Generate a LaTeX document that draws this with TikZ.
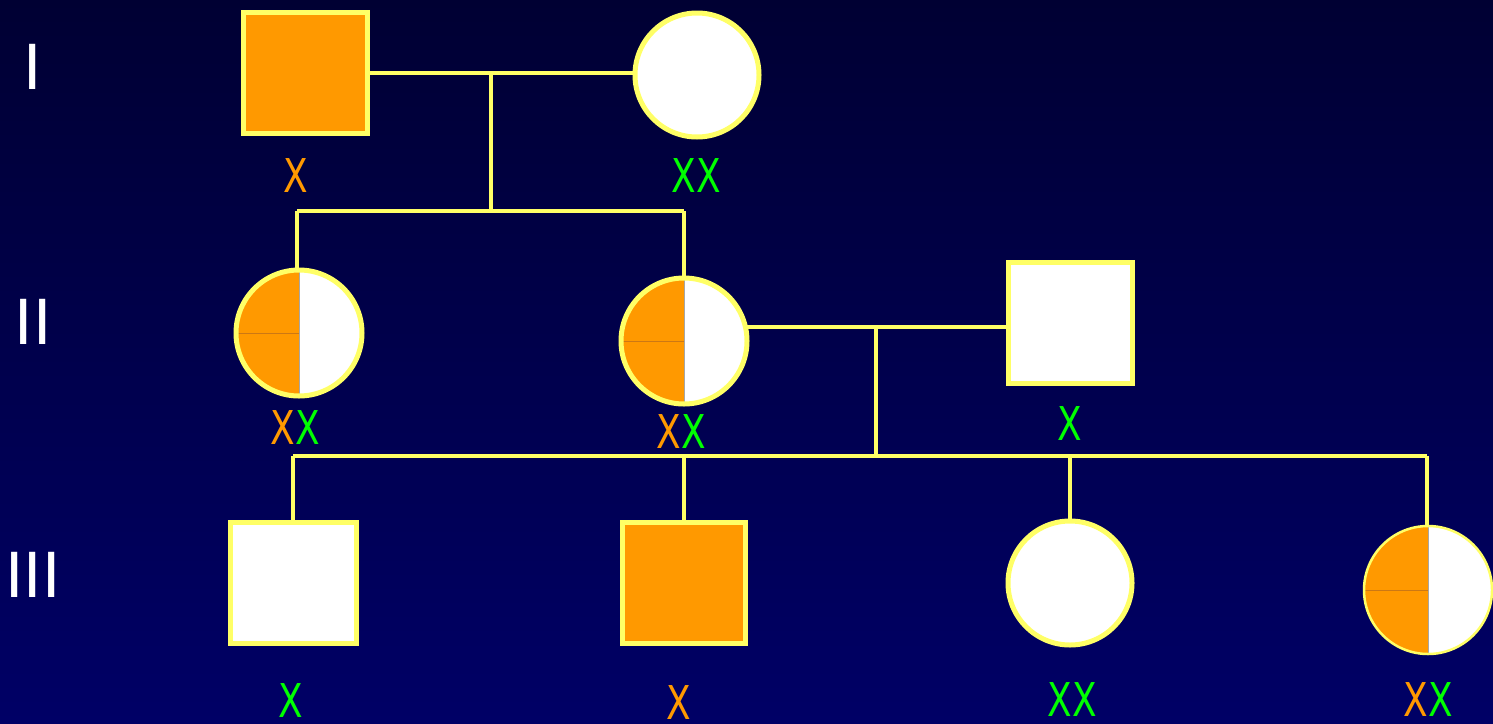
\documentclass[tikz,border=0pt]{standalone}
\usepackage{fontspec}
\setmainfont{DejaVu Sans}
\definecolor{pedline}{RGB}{255,255,102}
\definecolor{affected}{RGB}{255,153,0}
\definecolor{quadline}{RGB}{204,120,20}
\definecolor{gtext}{RGB}{0,255,0}
\definecolor{bgtop}{RGB}{0,0,51}
\definecolor{bgbot}{RGB}{0,0,102}
\newcommand{\ox}{{\color{affected}X}}
\newcommand{\gx}{{\color{gtext}X}}
\newcommand{\geno}[1]{\scalebox{0.77}[1]{#1}}
\tikzset{
  link/.style={draw=pedline, line width=4.5pt},
  person/.style={draw=pedline, line width=5pt, inner sep=0pt, outer sep=0pt},
  male/.style={person, rectangle, minimum width=124pt, minimum height=121pt},
  female/.style={person, circle, minimum size=126pt},
  affectedfill/.style={fill=affected},
  normalfill/.style={fill=white},
  carrier/.style={fill=white, path picture={
      \fill[affected] (path picture bounding box.south west) rectangle (path picture bounding box.north);
      \draw[quadline, line width=0.8pt] (path picture bounding box.west) -- (path picture bounding box.center);
      \draw[gray!70, line width=0.8pt] (path picture bounding box.north) -- (path picture bounding box.south);
  }},
  label/.style={inner sep=0pt, font=\fontsize{46.6}{50}\selectfont},
  gen/.style={inner sep=0pt, text=white, font=\fontsize{62}{66}\selectfont},
}
\begin{document}
\begin{tikzpicture}[x=1pt, y=-1pt]
  % background
  \shade[top color=bgtop, bottom color=bgbot] (0,0) rectangle (1493,723);
  \useasboundingbox (0,0) rectangle (1493,723);

  % generation numerals
  \node[gen] (g1) at (33,67) {I};
  \node[gen] (g2) at (33,322) {II};
  \node[gen] (g3) at (33,575) {III};

  % generation I
  \node[male, affectedfill] (m1) at (305,73) {};
  \node[female, normalfill, minimum size=124pt] (f1) at (697,75) {};
  % generation II
  \node[female, carrier] (f2) at (299,333) {};
  \node[female, carrier] (f3) at (684,341) {};
  \node[male, normalfill] (m2) at (1070,323) {};
  % generation III
  \node[male, normalfill, minimum width=126pt] (m3) at (293,583) {};
  \node[male, affectedfill, minimum width=123pt] (m4) at (684,583) {};
  \node[female, normalfill, minimum size=124pt] (f4) at (1070,583) {};
  \node[female, carrier, minimum size=128pt, line width=2.5pt] (f5) at (1428,590) {};

  % mating and sibship lines
  \coordinate (d1) at (491,74);
  \coordinate (s1) at (491,211);
  \coordinate (s1l) at (297,211);
  \coordinate (s1r) at (684,211);
  \draw[link] (m1.east) -- (m1.east -| f1.west);
  \draw[link] (d1) -- (s1);
  \draw[link] (s1l) -- (s1r);
  \draw[link] (s1l) -- (s1l |- f2.north);
  \draw[link] (s1r) -- (f3.north);

  \coordinate (d2) at (876,326);
  \coordinate (s2) at (876,456);
  \coordinate (s2l) at (293,456);
  \coordinate (s2r) at (1427,456);
  \draw[link] (f3.13) -- (f3.13 -| m2.west);
  \draw[link] (d2) -- (s2);
  \draw[link] (s2l) -- (s2r);
  \draw[link] (s2l) -- (m3.north);
  \draw[link] (m4.north |- s2l) -- (m4.north);
  \draw[link] (f4.north |- s2l) -- (f4.north);
  \draw[link] (s2r) -- (s2r |- f5.north);

  % genotype labels
  \node[label] (l1) at (296,176) {\geno{\ox}};
  \node[label] (l2) at (696,176) {\geno{\gx\gx}};
  \node[label] (l3) at (295,428) {\geno{\ox\gx}};
  \node[label] (l4) at (681,432) {\geno{\ox\gx}};
  \node[label] (l5) at (1070,424) {\geno{\gx}};
  \node[label] (l6) at (291,701) {\geno{\gx}};
  \node[label] (l7) at (679,703) {\geno{\ox}};
  \node[label] (l8) at (1072,700) {\geno{\gx\gx}};
  \node[label] (l9) at (1428,700) {\geno{\ox\gx}};
\end{tikzpicture}
\end{document}
